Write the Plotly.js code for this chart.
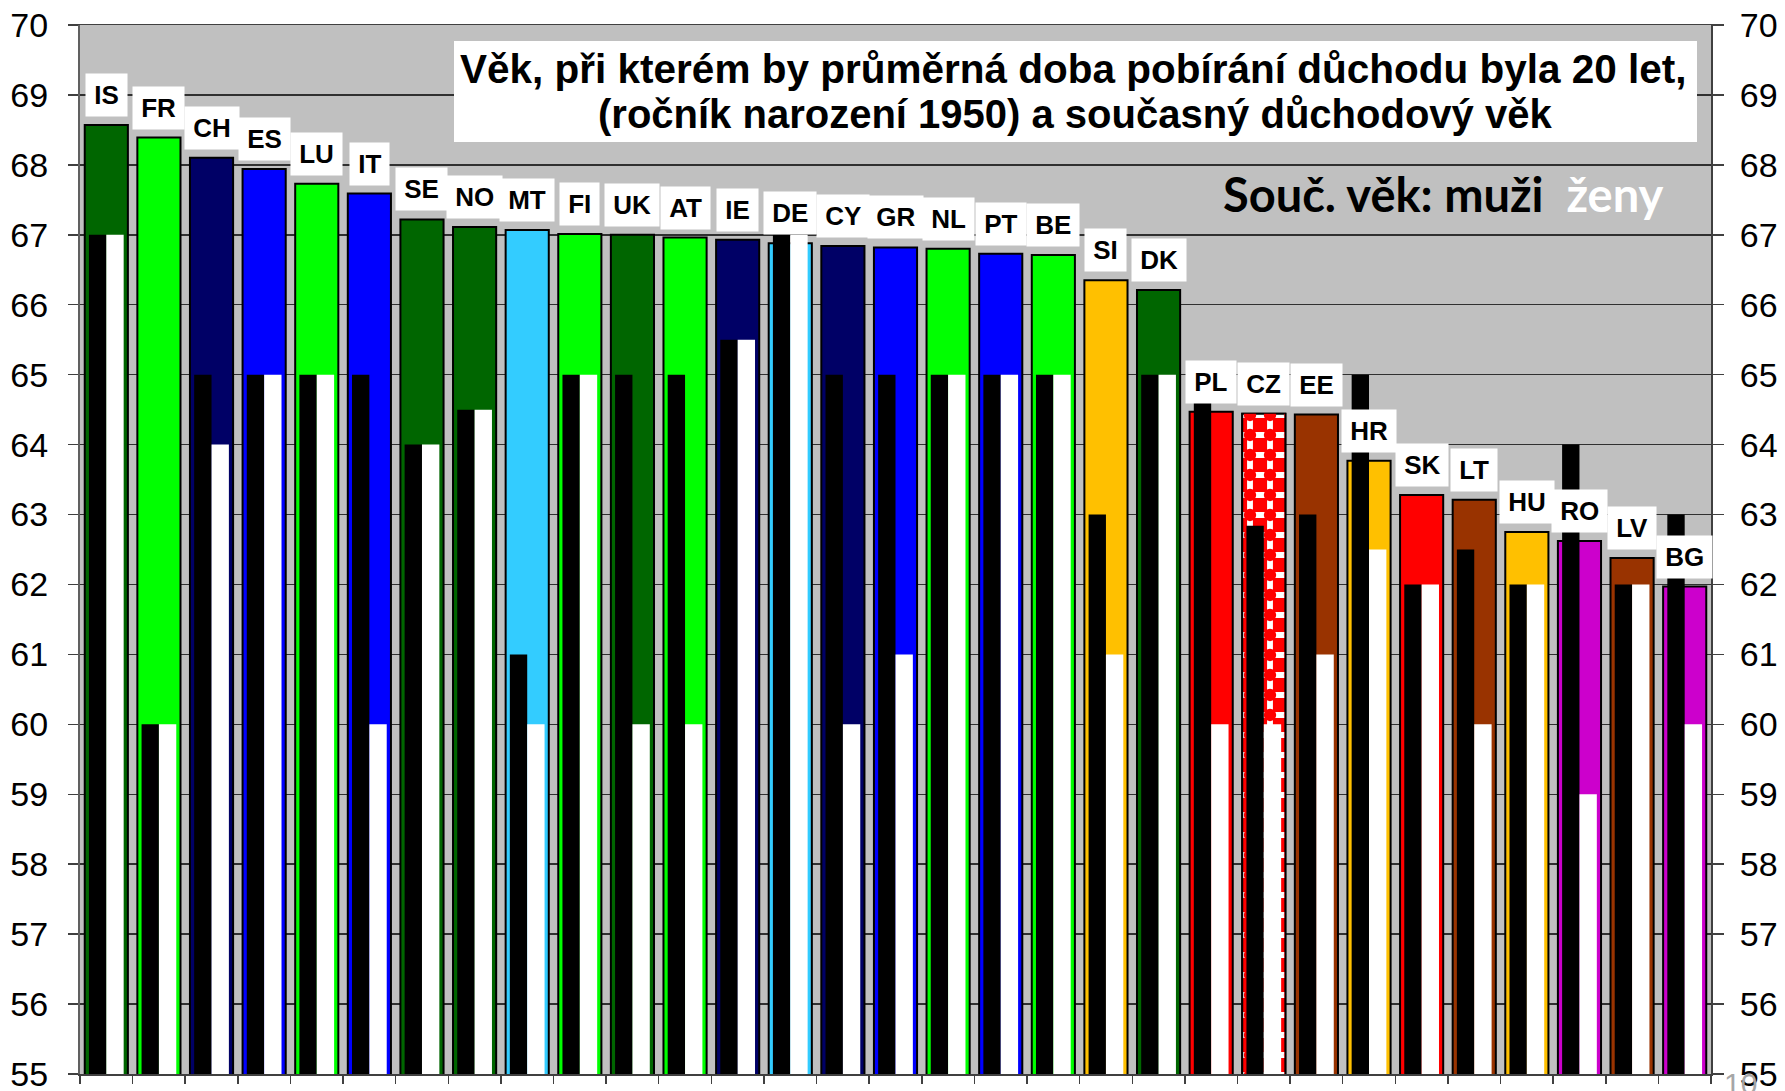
<!DOCTYPE html>
<html>
<head>
<meta charset="utf-8">
<script src="https://cdn.plot.ly/plotly-3.0.1.min.js"></script>
<style>
  html, body { margin: 0; padding: 0; background: #ffffff; }
  #chart { width: 1785px; height: 1091px; }
</style>
</head>
<body>
<div id="chart"></div>
<script>
// ---- data ----
const countries = ['IS','FR','CH','ES','LU','IT','SE','NO','MT','FI','UK','AT','IE','DE','CY','GR','NL','PT','BE','SI','DK','PL','CZ','EE','HR','SK','LT','HU','RO','LV','BG'];
// age at which the average pension duration would be 20 years (cohort 1950)
const age20 = [68.57, 68.39, 68.10, 67.94, 67.73, 67.59, 67.22, 67.11, 67.07, 67.01, 67.00, 66.96, 66.93, 66.88, 66.84, 66.82, 66.80, 66.73, 66.71, 66.35, 66.21, 64.47, 64.44, 64.43, 63.77, 63.28, 63.21, 62.75, 62.62, 62.38, 61.97];
// current retirement age - men
const menAge = [67, 60, 65, 65, 65, 65, 64, 64.5, 61, 65, 65, 65, 65.5, 67, 65, 65, 65, 65, 65, 63, 65, 65, 62.84, 63, 65, 62, 62.5, 62, 64, 62, 63];
// current retirement age - women
const womenAge = [67, 60, 64, 65, 65, 60, 64, 64.5, 60, 65, 60, 60, 65.5, 67, 60, 61, 65, 65, 65, 61, 65, 60, 60, 61, 62.5, 62, 60, 62, 59, 62, 60];
const barColors = ['#006600','#00FF00','#000066','#0000FF','#00FF00','#0000FF','#006600','#006600','#33CCFF','#00FF00','#006600','#00FF00','#000066','#33CCFF','#000066','#0000FF','#00FF00','#0000FF','#00FF00','#FFC000','#006600','#FF0000','#FF0000','#993300','#FFC000','#FF0000','#993300','#FFC000','#CC00CC','#993300','#CC00CC'];
const yTicks = [55,56,57,58,59,60,61,62,63,64,65,66,67,68,69,70];
const titleLine1 = 'Věk, při kterém by průměrná doba pobírání důchodu byla 20 let,';
const titleLine2 = '(ročník narození 1950) a současný důchodový věk';
const legendMen = 'Souč. věk: muži';
const legendWomen = 'ženy';
const pageNumber = '10';

// ---- geometry helpers (plot area in px) ----
const W = 1785, H = 1091;
const M = {l: 80, r: 74, t: 25, b: 17};
const plotW = W - M.l - M.r, plotH = H - M.t - M.b;
const px = v => (v - M.l) / plotW;
const py = v => (H - M.b - v) / plotH;

const FONT = 'Liberation Sans, Arial, sans-serif';
const czIndex = countries.indexOf('CZ');

const traces = [
  {
    type: 'bar', x: countries, y: age20, width: 0.82,
    marker: {color: barColors, line: {color: '#000000', width: 2}},
    hoverinfo: 'skip', showlegend: false
  },
  {
    type: 'bar', x: [countries[czIndex]], y: [age20[czIndex]], width: 0.82,
    marker: {color: '#FF0000', line: {color: '#000000', width: 2},
      pattern: {shape: '+', fillmode: 'replace', bgcolor: '#FF0000', fgcolor: '#FFFFFF', size: 20, solidity: 0.5}},
    hoverinfo: 'skip', showlegend: false
  },
  {
    type: 'bar', x: [countries[czIndex]], y: [age20[czIndex]], width: 0.79,
    marker: {color: 'rgba(0,0,0,0)', line: {width: 0},
      pattern: {shape: '.', fillmode: 'replace', fgcolor: '#FF0000', size: 20, solidity: 0.3}},
    hoverinfo: 'skip', showlegend: false
  },
  {
    type: 'bar', x: countries, y: menAge, offset: -0.33, width: 0.33,
    marker: {color: '#000000', line: {width: 0}},
    hoverinfo: 'skip', showlegend: false
  },
  {
    type: 'bar', x: countries, y: womenAge, offset: 0, width: 0.33, yaxis: 'y2',
    marker: {color: '#FFFFFF', line: {width: 0}},
    hoverinfo: 'skip', showlegend: false
  }
];

const annotations = countries.map((c, i) => ({
  x: c, y: age20[i], xref: 'x', yref: 'y',
  text: '\u200A' + c + '\u200A', showarrow: false,
  yanchor: 'bottom', xanchor: 'center', yshift: 8,
  bgcolor: '#FFFFFF', borderpad: 6,
  font: {family: FONT, size: 26, color: '#000000', weight: 'bold'}
}));

annotations.push(
  {xref: 'paper', yref: 'paper', x: px(1073), y: py(69), xanchor: 'center', yanchor: 'middle',
   text: titleLine1, showarrow: false,
   font: {family: FONT, size: 40.5, color: '#000000', weight: 'bold'}},
  {xref: 'paper', yref: 'paper', x: px(1075), y: py(114), xanchor: 'center', yanchor: 'middle',
   text: titleLine2, showarrow: false,
   font: {family: FONT, size: 40, color: '#000000', weight: 'bold'}},
  {xref: 'paper', yref: 'paper', x: px(1221), y: py(194), xanchor: 'left', yanchor: 'middle',
   text: legendMen + '  <span style="color:#FFFFFF">' + legendWomen + '</span>', showarrow: false,
   font: {family: 'Lato, Open Sans, sans-serif', size: 47, color: '#000000', weight: 'bold'}},
  {xref: 'paper', yref: 'paper', x: px(1722), y: py(1065), xanchor: 'left', yanchor: 'top',
   text: pageNumber, showarrow: false,
   font: {family: FONT, size: 30, color: '#A6A6A6'}}
);

const shapes = [
  {type: 'rect', xref: 'paper', yref: 'paper', x0: px(454), x1: px(1697), y0: py(142), y1: py(41),
   fillcolor: '#FFFFFF', line: {width: 0}, layer: 'above'}
];

const layout = {
  width: W, height: H,
  margin: M,
  paper_bgcolor: '#FFFFFF',
  plot_bgcolor: '#C0C0C0',
  barmode: 'overlay',
  showlegend: false,
  font: {family: FONT, color: '#000000'},
  xaxis: {
    type: 'category', range: [-0.5, countries.length - 0.5],
    showticklabels: false, ticks: 'outside', tickson: 'boundaries', ticklen: 8,
    tickcolor: '#404040', tickwidth: 1.5,
    showline: true, linecolor: '#404040', linewidth: 1.5, mirror: true,
    showgrid: false, zeroline: false, fixedrange: true
  },
  yaxis: {
    range: [55, 70], tickvals: yTicks, ticktext: yTicks.map(String),
    ticks: 'outside', ticklen: 10, tickcolor: '#404040', tickwidth: 1.5,
    tickfont: {family: FONT, size: 34, color: '#000000'}, ticklabelstandoff: 13,
    ticklabeloverflow: 'allow',
    showline: true, linecolor: '#606060', linewidth: 2,
    showgrid: true, gridcolor: '#303030', gridwidth: 1.5, zeroline: false, fixedrange: true
  },
  yaxis2: {
    overlaying: 'y', side: 'right', anchor: 'x',
    range: [55, 70], tickvals: yTicks, ticktext: yTicks.map(String),
    ticks: 'outside', ticklen: 11, tickcolor: '#404040', tickwidth: 1.5,
    tickfont: {family: FONT, size: 34, color: '#000000'}, ticklabelstandoff: 9,
    ticklabeloverflow: 'allow',
    showline: true, linecolor: '#404040', linewidth: 2,
    showgrid: false, zeroline: false, fixedrange: true
  },
  annotations: annotations,
  shapes: shapes
};

Plotly.newPlot('chart', traces, layout, {staticPlot: true, displayModeBar: false});
</script>
</body>
</html>
